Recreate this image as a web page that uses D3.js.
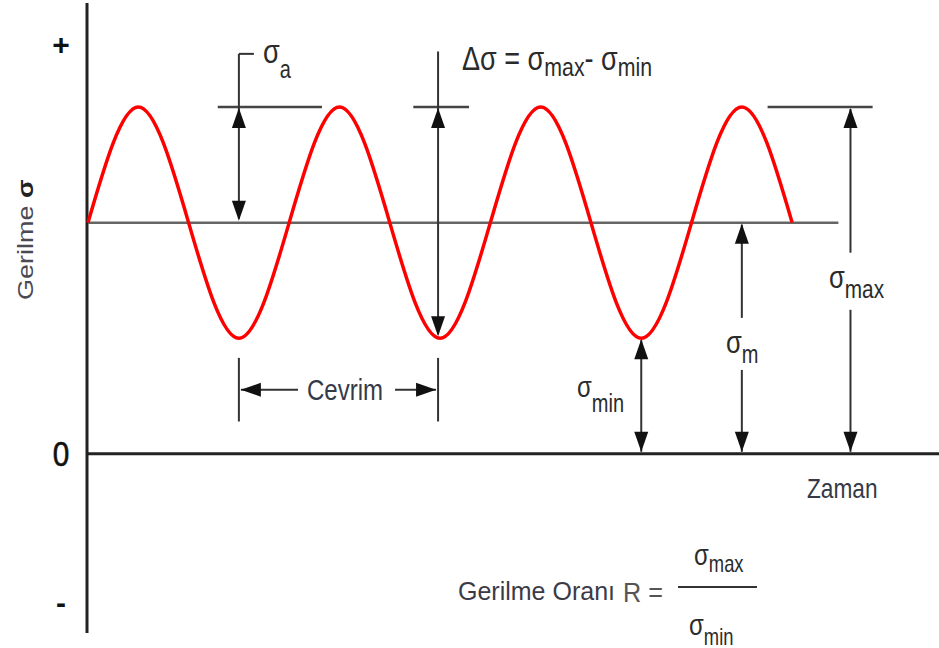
<!DOCTYPE html>
<html>
<head>
<meta charset="utf-8">
<script src="https://cdn.jsdelivr.net/npm/d3@7"></script>
<style>
  body { margin: 0; background: #fff; }
  svg { display: block; }
</style>
</head>
<body>
<div id="chart"></div>
<script>
// stress levels (arbitrary units, zero = time axis)
const stressMax = 150;
const stressMean = 100;
const stressMin = 50;

// wave key points: time in cycles, stress at each quarter cycle
const waveTime = [0, 0.25, 0.5, 0.75, 1, 1.25, 1.5, 1.75, 2, 2.25, 2.5, 2.75, 3, 3.25, 3.5];
const waveStress = [100, 150, 100, 50, 100, 150, 100, 50, 100, 150, 100, 50, 100, 150, 100];

// marks on the stress axis
const axisLabels = ["+", "0", "-"];
const axisValues = [177, 0, -64];

const width = 939, height = 648;
const font = "'Liberation Sans', Arial, sans-serif";
const ink = "#2b2b2b";

const svg = d3.select("#chart").append("svg")
    .attr("width", width)
    .attr("height", height);

const x = d3.scaleLinear().domain([0, 4.23]).range([88, 939]);
const y = d3.scaleLinear().domain([-77.5, 195]).range([633, 3]);

// small helper: black filled arrow head, tip at (tx, ty), dir = "up"|"down"|"left"|"right"
function arrowHead(tx, ty, dir) {
    const L = 20, W = 7;
    let pts;
    if (dir === "up") pts = [[tx, ty], [tx - W, ty + L], [tx + W, ty + L]];
    if (dir === "down") pts = [[tx, ty], [tx - W, ty - L], [tx + W, ty - L]];
    if (dir === "left") pts = [[tx, ty], [tx + L, ty - W], [tx + L, ty + W]];
    if (dir === "right") pts = [[tx, ty], [tx - L, ty - W], [tx - L, ty + W]];
    svg.append("path")
        .attr("d", d3.line()(pts) + "Z")
        .attr("fill", "#111");
}

function seg(x1, y1, x2, y2, color, w) {
    svg.append("line")
        .attr("x1", x1).attr("y1", y1)
        .attr("x2", x2).attr("y2", y2)
        .attr("stroke", color || "#333")
        .attr("stroke-width", w || 2);
}

// text built from parts [{text, size, shift, bold}], squeezed horizontally like the source
function mathLabel(px, py, parts, sx, color) {
    const t = svg.append("text")
        .attr("transform", `translate(${px},${py}) scale(${sx},1)`)
        .attr("font-family", font)
        .attr("fill", color || ink);
    let cur = 0;
    parts.forEach(p => {
        const shift = p.shift || 0;
        t.append("tspan")
            .attr("dy", shift - cur)
            .attr("font-size", p.size)
            .attr("font-weight", p.bold ? "bold" : null)
            .style("white-space", "pre")
            .text(p.text);
        cur = shift;
    });
    return t;
}

// axes
seg(x(0) - 1, y(195), x(0) - 1, y(-77.5), "#222", 3);
seg(x(0) - 1, y(0), width, y(0), "#222", 3);

// mean stress line
seg(x(0), y(stressMean), x(3.73), y(stressMean), "#666", 2.5);

// reference lines at the peaks
seg(x(0.645), y(stressMax), x(1.163), y(stressMax), "#444", 2.5);
seg(x(1.617), y(stressMax), x(1.894), y(stressMax), "#444", 2.5);
seg(x(3.378), y(stressMax), x(3.9), y(stressMax), "#444", 2.5);

// the stress wave
const pts = waveTime.map((t, i) => [x(t), y(waveStress[i])]);
svg.append("path")
    .attr("d", d3.line().curve(d3.curveNatural)(pts))
    .attr("fill", "none")
    .attr("stroke", "#ff0000")
    .attr("stroke-width", 3.5);

// sigma_a : amplitude
const xa = x(0.75);
seg(xa, y(173), xa, y(stressMean) - 4);
seg(xa, y(173), xa + 15, y(173));
arrowHead(xa, y(stressMax) + 1, "up");
arrowHead(xa, y(stressMean) - 2, "down");
mathLabel(263, 63, [{text: "σ", size: 34}, {text: "a", size: 25, shift: 15}], 0.8);

// delta sigma : range
const xr = x(1.75) - 2;
seg(xr, y(174), xr, y(stressMin) - 4);
arrowHead(xr, y(stressMax) + 1, "up");
arrowHead(xr, y(stressMin) - 2, "down");
mathLabel(462, 70, [
    {text: "Δσ = σ", size: 33},
    {text: "max", size: 26, shift: 6},
    {text: "- σ", size: 33, shift: 0},
    {text: "min", size: 26, shift: 6}
], 0.82);

// cycle
const c0 = x(0.75), c1 = x(1.75) - 2, cy = y(27.7);
seg(c0, y(41.5), c0, y(14));
seg(c1, y(41.5), c1, y(14));
seg(c0 + 2, cy, 298, cy);
seg(395, cy, c1 - 2, cy);
arrowHead(c0 + 2, cy, "left");
arrowHead(c1 - 2, cy, "right");
mathLabel(307, 400, [{text: "Cevrim", size: 30}], 0.8, "#353a48");

// sigma_min
const xn = x(2.75);
seg(xn, y(stressMin) + 2, xn, y(0) - 2);
arrowHead(xn, y(stressMin) + 1, "up");
arrowHead(xn, y(0) - 2, "down");
mathLabel(577, 397, [{text: "σ", size: 30}, {text: "min", size: 25, shift: 15}], 0.8);

// sigma_m
const xm = x(3.25);
seg(xm, y(stressMean) + 2, xm, y(58.8));
seg(xm, y(36.3), xm, y(0) - 2);
arrowHead(xm, y(stressMean) + 1, "up");
arrowHead(xm, y(0) - 2, "down");
mathLabel(726, 353, [{text: "σ", size: 32}, {text: "m", size: 25, shift: 10}], 0.8);

// sigma_max
const xx = x(3.79);
seg(xx, y(stressMax) + 2, xx, y(87));
seg(xx, y(62.3), xx, y(0) - 2);
arrowHead(xx, y(stressMax) + 1, "up");
arrowHead(xx, y(0) - 2, "down");
mathLabel(829, 288, [{text: "σ", size: 32}, {text: "max", size: 26, shift: 10}], 0.8);

// axis marks
axisLabels.forEach((s, i) => {
    svg.append("text")
        .attr("x", 61)
        .attr("y", y(axisValues[i]))
        .attr("dy", "0.36em")
        .attr("text-anchor", "middle")
        .attr("font-family", font)
        .attr("font-size", s === "0" ? 35 : 30)
        .attr("font-weight", s === "0" ? null : "bold")
        .attr("fill", "#111")
        .attr("stroke", s === "0" ? "#111" : null)
        .attr("stroke-width", s === "0" ? 0.6 : null)
        .attr("transform", s === "0" ? `translate(${61 * 0.15},0) scale(0.85,1)` : null)
        .text(s);
});

// axis titles
mathLabel(807, 498, [{text: "Zaman", size: 28}], 0.81, "#353a48");

svg.append("text")
    .attr("transform", "translate(33,300) rotate(-90) scale(1,0.85)")
    .attr("font-family", font)
    .attr("font-size", 27)
    .attr("fill", "#4a4a55")
    .call(t => {
        t.append("tspan").text("Gerilme ");
        t.append("tspan").attr("font-weight", "bold").attr("fill", "#222").text("σ");
    });

// stress ratio formula
mathLabel(458, 600, [{text: "Gerilme Oranı", size: 25}], 1, "#3b3b48");
mathLabel(623, 602, [{text: "R =", size: 28}], 0.9, "#555");
seg(678, 587, 757, 587, "#333", 2);
mathLabel(694, 565, [{text: "σ", size: 30}, {text: "max", size: 23, shift: 7}], 0.8);
mathLabel(689, 635, [{text: "σ", size: 30}, {text: "min", size: 23, shift: 10}], 0.8);
</script>
</body>
</html>
